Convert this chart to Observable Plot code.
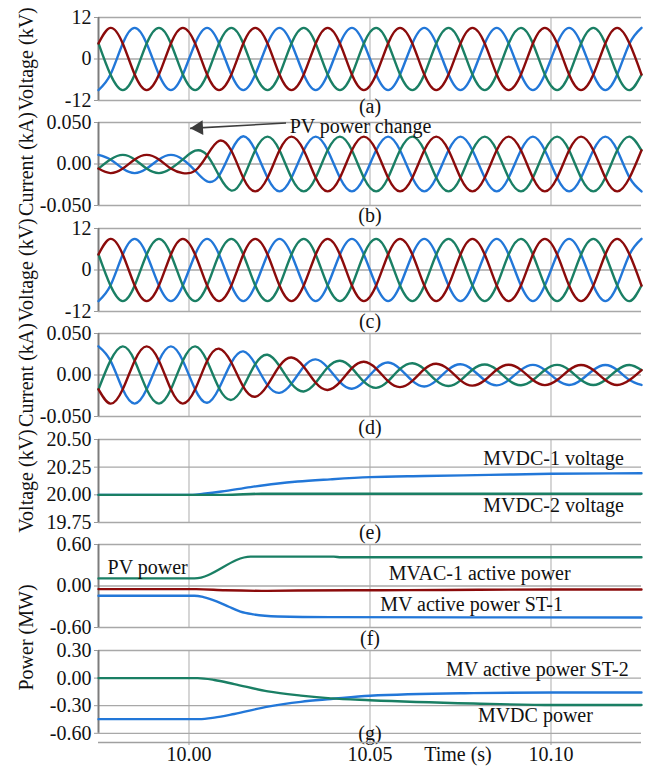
<!DOCTYPE html>
<html><head><meta charset="utf-8">
<script src="https://cdn.jsdelivr.net/npm/d3@7"></script>
<script src="https://cdn.jsdelivr.net/npm/@observablehq/plot@0.6"></script>
<style>
body{margin:0;background:#fff;}
#chart{position:relative;width:652px;height:767px;overflow:hidden;background:#fff;}
#chart svg{position:absolute;left:0;overflow:visible;background:transparent;}
</style></head><body><div id="chart"></div>
<script>
// ---------- shared x ----------
const xDomain = [9.975, 10.125];
const xTicks = [10.00, 10.05, 10.10];
const xTickLabels = ["10.00", "10.05", "10.10"];
const xTitle = "Time (s)";

// ---------- tick values / labels ----------
const ticksV = [12, 0, -12];            const tickLabelsV = ["12", "0", "-12"];
const ticksI = [0.05, 0, -0.05];        const tickLabelsI = ["0.050", "0.00", "-0.050"];
const ticksE = [20.5, 20.25, 20, 19.75]; const tickLabelsE = ["20.50", "20.25", "20.00", "19.75"];
const ticksF = [0.6, 0, -0.6];          const tickLabelsF = ["0.60", "0.00", "-0.60"];
const ticksG = [0.3, 0, -0.3, -0.6];    const tickLabelsG = ["0.30", "0.00", "-0.30", "-0.60"];

// ---------- sampled waveforms (read every 1/6 cycle) ----------
const tSine = [9.9750, 9.9783, 9.9817, 9.9850, 9.9883, 9.9917, 9.9950, 9.9983, 10.0017, 10.0050,
  10.0083, 10.0117, 10.0150, 10.0183, 10.0217, 10.0250, 10.0283, 10.0317, 10.0350, 10.0383,
  10.0417, 10.0450, 10.0483, 10.0517, 10.0550, 10.0583, 10.0617, 10.0650, 10.0683, 10.0717,
  10.0750, 10.0783, 10.0817, 10.0850, 10.0883, 10.0917, 10.0950, 10.0983, 10.1017, 10.1050,
  10.1083, 10.1117, 10.1150, 10.1183, 10.1217, 10.1250];

// (a) voltage, kV
const vA_red = [4.5,9,4.5,-4.5,-9,-4.5, 4.5,9,4.5,-4.5,-9,-4.5, 4.5,9,4.5,-4.5,-9,-4.5, 4.5,9,4.5,-4.5,-9,-4.5,
  4.5,9,4.5,-4.5,-9,-4.5, 4.5,9,4.5,-4.5,-9,-4.5, 4.5,9,4.5,-4.5,-9,-4.5, 4.5,9,4.5,-4.5];
const vA_blue = [-9,-4.5,4.5,9,4.5,-4.5, -9,-4.5,4.5,9,4.5,-4.5, -9,-4.5,4.5,9,4.5,-4.5, -9,-4.5,4.5,9,4.5,-4.5,
  -9,-4.5,4.5,9,4.5,-4.5, -9,-4.5,4.5,9,4.5,-4.5, -9,-4.5,4.5,9,4.5,-4.5, -9,-4.5,4.5,9];
const vA_green = [4.5,-4.5,-9,-4.5,4.5,9, 4.5,-4.5,-9,-4.5,4.5,9, 4.5,-4.5,-9,-4.5,4.5,9, 4.5,-4.5,-9,-4.5,4.5,9,
  4.5,-4.5,-9,-4.5,4.5,9, 4.5,-4.5,-9,-4.5,4.5,9, 4.5,-4.5,-9,-4.5,4.5,9, 4.5,-4.5,-9,-4.5];

// (b) current, kA
const iB_red = [-0.0055,-0.011,-0.0055,0.0055,0.011,0.0055,-0.0055,-0.011,
  -0.008,0.0105,0.028,0.016,-0.0168,-0.033,-0.0165,0.0165,0.033,0.0165,
  -0.0165,-0.033,-0.0165,0.0165,0.033,0.0165, -0.0165,-0.033,-0.0165,0.0165,0.033,0.0165,
  -0.0165,-0.033,-0.0165,0.0165,0.033,0.0165, -0.0165,-0.033,-0.0165,0.0165,0.033,0.0165,
  -0.0165,-0.033,-0.0165,0.0165];
const iB_blue = [0.011,0.0055,-0.0055,-0.011,-0.0055,0.0055,0.011,0.0055,
  -0.008,-0.021,-0.014,0.016,0.0335,0.0165,-0.0165,-0.033,-0.0165,0.0165,
  0.033,0.0165,-0.0165,-0.033,-0.0165,0.0165, 0.033,0.0165,-0.0165,-0.033,-0.0165,0.0165,
  0.033,0.0165,-0.0165,-0.033,-0.0165,0.0165, 0.033,0.0165,-0.0165,-0.033,-0.0165,0.0165,
  0.033,0.0165,-0.0165,-0.033];
const iB_green = [-0.0055,0.0055,0.011,0.0055,-0.0055,-0.011,-0.0055,0.0055,
  0.016,0.0105,-0.014,-0.032,-0.0168,0.0165,0.033,0.0165,-0.0165,-0.033,
  -0.0165,0.0165,0.033,0.0165,-0.0165,-0.033, -0.0165,0.0165,0.033,0.0165,-0.0165,-0.033,
  -0.0165,0.0165,0.033,0.0165,-0.0165,-0.033, -0.0165,0.0165,0.033,0.0165,-0.0165,-0.033,
  -0.0165,0.0165,0.033,0.0165];

// (c) voltage, kV
const vC_red = [4.5,9,4.5,-4.5,-9,-4.5, 4.5,9,4.5,-4.5,-9,-4.5, 4.5,9,4.5,-4.5,-9,-4.5, 4.5,9,4.5,-4.5,-9,-4.5,
  4.5,9,4.5,-4.5,-9,-4.5, 4.5,9,4.5,-4.5,-9,-4.5, 4.5,9,4.5,-4.5,-9,-4.5, 4.5,9,4.5,-4.5];
const vC_blue = [-9,-4.5,4.5,9,4.5,-4.5, -9,-4.5,4.5,9,4.5,-4.5, -9,-4.5,4.5,9,4.5,-4.5, -9,-4.5,4.5,9,4.5,-4.5,
  -9,-4.5,4.5,9,4.5,-4.5, -9,-4.5,4.5,9,4.5,-4.5, -9,-4.5,4.5,9,4.5,-4.5, -9,-4.5,4.5,9];
const vC_green = [4.5,-4.5,-9,-4.5,4.5,9, 4.5,-4.5,-9,-4.5,4.5,9, 4.5,-4.5,-9,-4.5,4.5,9, 4.5,-4.5,-9,-4.5,4.5,9,
  4.5,-4.5,-9,-4.5,4.5,9, 4.5,-4.5,-9,-4.5,4.5,9, 4.5,-4.5,-9,-4.5,4.5,9, 4.5,-4.5,-9,-4.5];

// (d) current, kA
const iD_red = [-0.0173,-0.0345,-0.0173,0.0173,0.0345,0.0173,-0.0173,-0.0345,-0.0173,0.0168,
  0.0317,0.015,-0.0142,-0.0262,-0.0122,0.0108,0.021,0.0099,-0.0094,-0.018,
  -0.0086,0.0083,0.016,0.0078,-0.0075,-0.0146,-0.0071,0.007,0.0136,0.0067,
  -0.0065,-0.0128,-0.0063,0.0063,0.0124,0.0062,-0.0061,-0.0122,-0.0061,0.006,
  0.012,0.006,-0.006,-0.012,-0.006,0.006];
const iD_blue = [0.0345,0.0173,-0.0173,-0.0345,-0.0173,0.0173,0.0345,0.0173,-0.0173,-0.0335,
  -0.0159,0.015,0.0284,0.0131,-0.0122,-0.0215,-0.0105,0.0099,0.0188,0.009,
  -0.0086,-0.0165,-0.008,0.0078,0.015,0.0073,-0.0071,-0.0139,-0.0068,0.0067,
  0.013,0.0064,-0.0063,-0.0125,-0.0062,0.0062,0.0122,0.0061,-0.0061,-0.012,
  -0.006,0.006,0.012,0.006,-0.006,-0.012];
const iD_green = [-0.0173,0.0173,0.0345,0.0173,-0.0173,-0.0345,-0.0173,0.0173,0.0345,0.0168,
  -0.0159,-0.030,-0.0142,0.0131,0.0244,0.0108,-0.0105,-0.0198,-0.0094,0.009,
  0.0172,0.0083,-0.008,-0.0155,-0.0075,0.0073,0.0142,0.007,-0.0068,-0.0133,
  -0.0065,0.0064,0.0126,0.0063,-0.0062,-0.0123,-0.0061,0.0061,0.0122,0.006,
  -0.006,-0.012,-0.006,0.006,0.012,0.006];

// (e) DC voltages, kV
const tE_dc1 = [9.975, 10.001, 10.004, 10.009, 10.017, 10.024, 10.030, 10.039, 10.050, 10.065, 10.083, 10.100, 10.125];
const vE_dc1 = [20.00, 20.00, 20.01, 20.03, 20.07, 20.10, 20.12, 20.14, 20.16, 20.17, 20.18, 20.19, 20.195];
const tE_dc2 = [9.975, 10.010, 10.020, 10.125];
const vE_dc2 = [20.00, 20.00, 20.01, 20.01];

// (f) powers, MW
const tF_pv = [9.975, 10.0015, 10.017, 10.040, 10.042, 10.125];
const vF_pv = [0.11, 0.11, 0.425, 0.425, 0.415, 0.415];
const tF_mvac = [9.975, 10.002, 10.010, 10.020, 10.030, 10.045, 10.060, 10.080, 10.100, 10.125];
const vF_mvac = [-0.045, -0.045, -0.062, -0.07, -0.066, -0.062, -0.06, -0.055, -0.05, -0.05];
const tF_st1 = [9.975, 10.0015, 10.004, 10.0078, 10.011, 10.0142, 10.0178, 10.0245, 10.039, 10.125];
const vF_st1 = [-0.14, -0.14, -0.16, -0.225, -0.30, -0.37, -0.41, -0.44, -0.45, -0.455];

// (g) powers, MW
const tG_dc = [9.975, 10.0024, 10.007, 10.0125, 10.0218, 10.0309, 10.0392, 10.05, 10.0786, 10.1008, 10.125];
const vG_dc = [0, 0, -0.02, -0.065, -0.145, -0.19, -0.22, -0.24, -0.276, -0.293, -0.293];
const tG_st2 = [9.975, 10.0028, 10.007, 10.0125, 10.0218, 10.0309, 10.0392, 10.05, 10.0786, 10.1008, 10.125];
const vG_st2 = [-0.446, -0.446, -0.43, -0.39, -0.31, -0.258, -0.228, -0.192, -0.163, -0.156, -0.156];

// ---------- texts ----------
const letters = ["(a)", "(b)", "(c)", "(d)", "(e)", "(f)", "(g)"];
const letterT = 10.05;
const annB = [{s: "PV power change", t: 10.0278, v: 0.0455}];
const arrowB = [{t1: 10.0268, v1: 0.0494, t2: 10.0003, v2: 0.0429}];
const labelsE = [{s: "MVDC-1 voltage", t: 10.1007, v: 20.323}, {s: "MVDC-2 voltage", t: 10.1007, v: 19.90}];
const labelsF = [{s: "PV power", t: 9.9775, v: 0.269}, {s: "MVAC-1 active power", t: 10.0552, v: 0.173},
                 {s: "MV active power ST-1", t: 10.0528, v: -0.269}];
const labelsG = [{s: "MV active power ST-2", t: 10.071, v: 0.09}, {s: "MVDC power", t: 10.0798, v: -0.4065}];
const letterG = [{s: letters[6], t: 10.05, v: -0.6}];

// ---------- styling ----------
const BLUE = "#2277d8", GREEN = "#1a7f64", RED = "#8b0b0b";
const FONT = "'Liberation Serif', 'Times New Roman', serif";
const rows = (t, v) => t.map((x, i) => ({t: x, v: v[i]}));

const panels = [
  {top: 17, h: 83, domain: [-12, 12], ticks: ticksV, tl: tickLabelsV, title: "Voltage (kV)", letter: letters[0], letterDy: 6.5,
   curve: "natural", series: [[tSine, vA_blue, BLUE], [tSine, vA_green, GREEN], [tSine, vA_red, RED]]},
  {top: 122, h: 83, domain: [-0.05, 0.05], ticks: ticksI, tl: tickLabelsI, title: "Current (kA)", letter: letters[1], letterDy: 10.5,
   curve: "natural", series: [[tSine, iB_blue, BLUE], [tSine, iB_green, GREEN], [tSine, iB_red, RED]], ann: true},
  {top: 228, h: 83, domain: [-12, 12], ticks: ticksV, tl: tickLabelsV, title: "Voltage (kV)", letter: letters[2], letterDy: 10.5,
   curve: "natural", series: [[tSine, vC_blue, BLUE], [tSine, vC_green, GREEN], [tSine, vC_red, RED]]},
  {top: 333, h: 83, domain: [-0.05, 0.05], ticks: ticksI, tl: tickLabelsI, title: "Current (kA)", letter: letters[3], letterDy: 11,
   curve: "natural", series: [[tSine, iD_blue, BLUE], [tSine, iD_green, GREEN], [tSine, iD_red, RED]]},
  {top: 439, h: 83, domain: [19.75, 20.5], ticks: ticksE, tl: tickLabelsE, title: "Voltage (kV)", letter: letters[4], letterDy: 10.5,
   curve: "monotone-x", series: [[tE_dc1, vE_dc1, BLUE], [tE_dc2, vE_dc2, GREEN]], labels: labelsE, labelAnchor: "middle"},
  {top: 544, h: 83, domain: [-0.6, 0.6], ticks: ticksF, tl: tickLabelsF, title: null, letter: letters[5], letterDy: 11.5,
   curve: "monotone-x", series: [[tF_pv, vF_pv, GREEN], [tF_mvac, vF_mvac, RED], [tF_st1, vF_st1, BLUE]], labels: labelsF, labelAnchor: "start"},
  {top: 650, h: 92, domain: [-0.70, 0.3], ticks: ticksG, tl: tickLabelsG, title: "Power (MW)", titleDy: -59, letter: null,
   curve: "monotone-x", series: [[tG_st2, vG_st2, BLUE], [tG_dc, vG_dc, GREEN]], labels: labelsG, labelAnchor: "start", xAxis: true}
];

const chart = document.getElementById("chart");
const MT = 14, MB = 30;

for (const p of panels) {
  const fmt = new Map(p.ticks.map((d, i) => [d, p.tl[i]]));
  const yMin = d3.min(p.ticks), yMax = d3.max(p.ticks);
  const marks = [
    Plot.gridX(xTicks, {stroke: "#c4c4c4", strokeOpacity: 1, strokeWidth: 1.4}),
    Plot.gridY(p.ticks, {stroke: "#a8a8a8", strokeOpacity: 1, strokeWidth: 1.3}),
    Plot.ruleX([xDomain[0]], {y1: yMin, y2: yMax, stroke: "#7c7c7c", strokeWidth: 2}),
    Plot.axisY(p.ticks, {tickSize: 4, tickPadding: 3, stroke: "#999", fill: "#111", tickFormat: d => fmt.get(d), label: null, fontSize: 20})
  ];
  for (const [t, v, c] of p.series) {
    marks.push(Plot.line(rows(t, v), {x: "t", y: "v", stroke: c, strokeWidth: 2.4, curve: p.curve}));
  }
  if (p.title) {
    marks.push(Plot.text([p.title], {frameAnchor: "left", textAnchor: "middle", lineAnchor: "middle", rotate: -90,
      dx: -72, dy: p.titleDy || 0, text: d => d, fontSize: 20, fill: "#111"}));
  }
  if (p.letter) {
    marks.push(Plot.text([p.letter], {x: () => letterT, frameAnchor: "bottom", lineAnchor: "middle", dy: p.letterDy,
      text: d => d, fontSize: 20, fill: "#111"}));
  }
  if (p.labels) {
    marks.push(Plot.text(p.labels, {x: "t", y: "v", text: "s", textAnchor: p.labelAnchor, fontSize: 20, fill: "#111"}));
  }
  if (p.ann) {
    marks.push(Plot.link(arrowB, {x1: "t1", y1: "v1", x2: "t2", y2: "v2", stroke: "#3c3c3c", strokeWidth: 1.6}));
    marks.push(Plot.dot(arrowB, {x: "t2", y: "v2", symbol: "triangle", r: 5.5, fill: "#3c3c3c", stroke: "none", rotate: -93, dx: 8.6, dy: -0.5}));
    marks.push(Plot.text(annB, {x: "t", y: "v", text: "s", textAnchor: "start", fontSize: 20, fill: "#111"}));
  }
  if (p.xAxis) {
    marks.push(Plot.text(letterG, {x: "t", y: "v", text: "s", textAnchor: "middle", fontSize: 20, fill: "#111"}));
    marks.push(Plot.ruleY([p.domain[0]], {stroke: "#a0a0a0", strokeWidth: 1.4}));
    const xf = new Map(xTicks.map((d, i) => [d, xTickLabels[i]]));
    marks.push(Plot.axisX(xTicks, {anchor: "bottom", tickSize: 3, tickPadding: 1, stroke: "#999", fill: "#111",
      tickFormat: d => xf.get(d), label: null, fontSize: 20}));
    marks.push(Plot.text([xTitle], {x: () => 10.0743, frameAnchor: "bottom", lineAnchor: "top", dy: 4.3, text: d => d, fontSize: 20, fill: "#111"}));
  }
  const svg = Plot.plot({
    width: 652, height: p.h + MT + MB,
    marginLeft: 98, marginRight: 11, marginTop: MT, marginBottom: MB,
    x: {domain: xDomain, ...(p.xAxis ? {} : {axis: null})},
    y: {domain: p.domain},
    style: {fontFamily: FONT, fontSize: "20px", background: "transparent", overflow: "visible", color: "#111"},
    marks
  });
  svg.style.top = (p.top - MT) + "px";
  chart.appendChild(svg);
}
</script></body></html>
